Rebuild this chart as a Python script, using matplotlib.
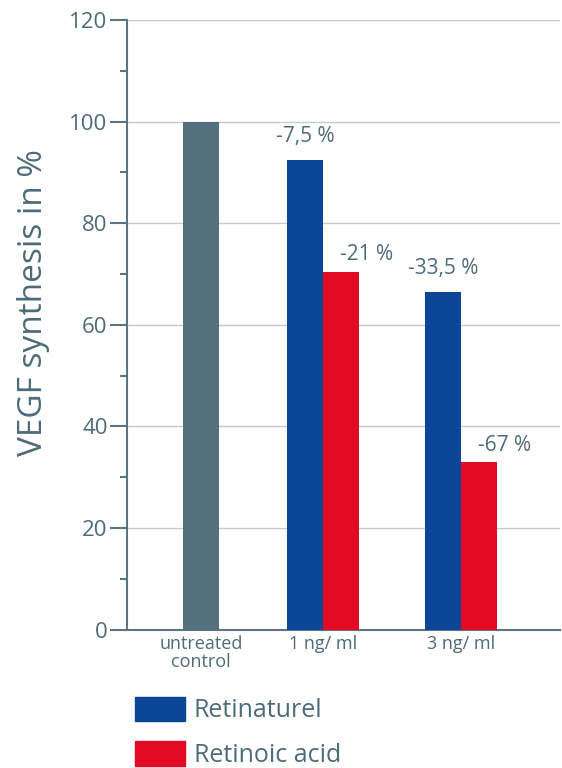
import matplotlib.pyplot as plt
from matplotlib.patches import Patch

# VEGF synthesis bar chart

categories = ['untreated\ncontrol', '1 ng/ ml', '3 ng/ ml']
control_value = [100]
retinaturel = [92.5, 66.5]
retinoic_acid = [70.5, 33]
retinaturel_labels = ['-7,5 %', '-33,5 %']
retinoic_labels = ['-21 %', '-67 %']

txt = '#4e6b79'
axc = '#5d7582'
gray = '#55707e'
blue = '#0b4697'
red = '#e30a23'

plt.rcParams['font.family'] = ['Open Sans', 'DejaVu Sans']

fig = plt.figure(figsize=(5.62, 7.68), dpi=100)
ax = fig.add_axes([0.226, 0.18, 0.77, 0.794])

xpos = [0, 1.02, 2.17]
w = 0.3

ax.bar(xpos[0], control_value[0], w, color=gray, zorder=3)
ax.bar([x - w / 2 for x in xpos[1:]], retinaturel, w, color=blue, zorder=3)
ax.bar([x + w / 2 for x in xpos[1:]], retinoic_acid, w, color=red, zorder=3)

for x, v, s in zip(xpos[1:], retinaturel, retinaturel_labels):
    ax.text(x - w / 2, v + 2.5, s, ha='center', va='bottom', fontsize=15, color=txt)
for x, v, s in zip(xpos[1:], retinoic_acid, retinoic_labels):
    ax.text(x + w / 2 - 0.01, v + 1.2, s, ha='left', va='bottom', fontsize=15, color=txt)

ax.set_ylim(0, 120)
ax.set_xlim(-0.617, 2.99)
ax.set_yticks(range(0, 121, 20))
ax.set_yticks(range(10, 120, 20), minor=True)
ax.tick_params(axis='y', which='major', length=12, width=1.5, color=axc,
               labelsize=16, labelcolor=txt, pad=2)
ax.tick_params(axis='y', which='minor', length=5, width=1.5, color=axc)
ax.set_xticks(xpos)
ax.set_xticklabels(categories, fontsize=13, color=txt, linespacing=0.95)
ax.tick_params(axis='x', length=0, pad=4)
ax.yaxis.grid(True, which='major', color='#c4c9cc', lw=1, zorder=0)

for s in ['top', 'right']:
    ax.spines[s].set_visible(False)
for s in ['left', 'bottom']:
    ax.spines[s].set_color(axc)
    ax.spines[s].set_linewidth(1.5)

ax.set_ylabel('VEGF synthesis in %', fontsize=24, color=txt)
ax.yaxis.set_label_coords(-0.178, 0.536)

handles = [Patch(color=blue, label='Retinaturel'), Patch(color=red, label='Retinoic acid')]
leg = fig.legend(handles=handles, loc='upper left', bbox_to_anchor=(0.222, 0.106),
                 frameon=False, fontsize=18, handlelength=2.0, handleheight=1.15,
                 handletextpad=0.35, labelspacing=0.7, borderaxespad=0)
for t in leg.get_texts():
    t.set_color(txt)

fig.savefig('out.png', dpi=100)
